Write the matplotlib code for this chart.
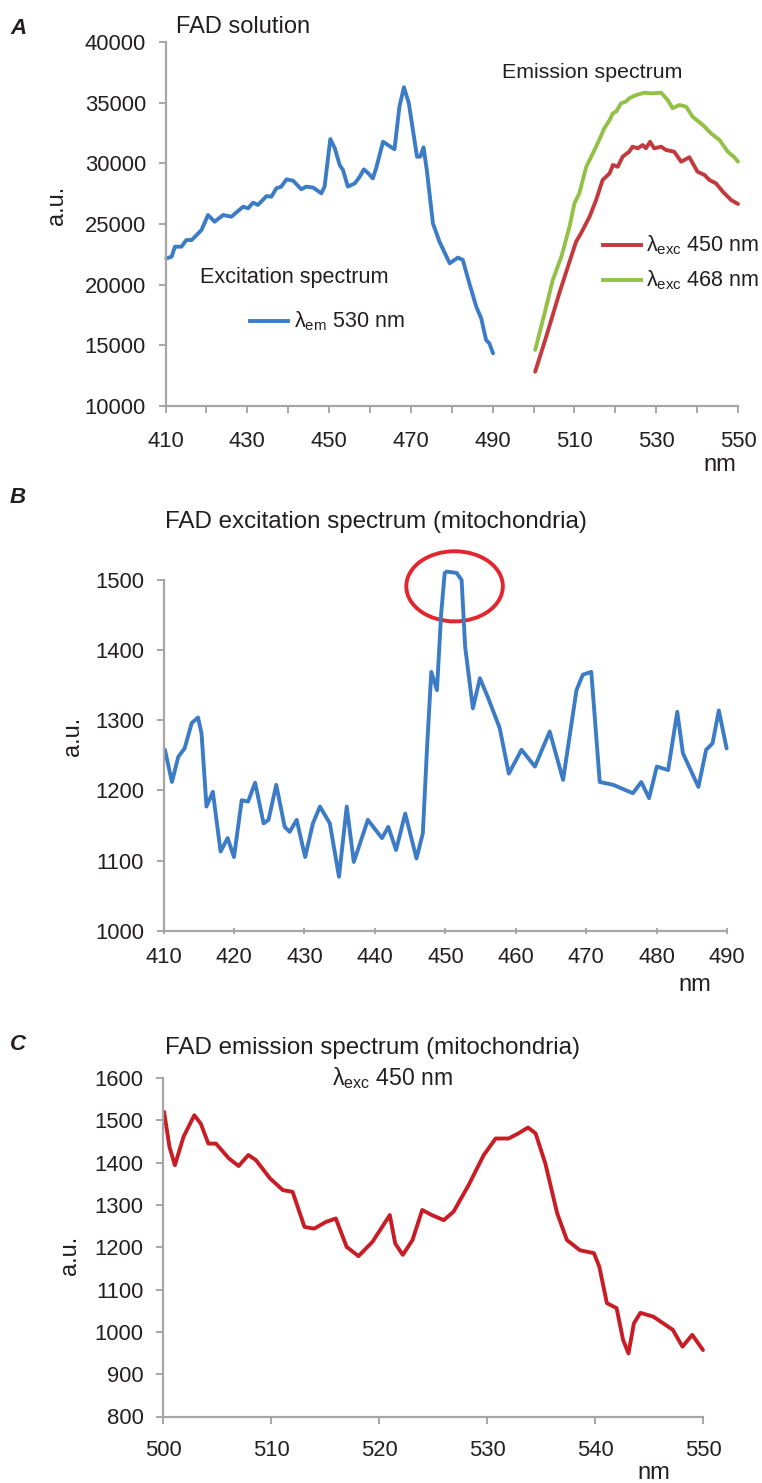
import matplotlib
matplotlib.use('Agg')
import matplotlib.pyplot as plt
from matplotlib.patches import Ellipse

plt.rcParams['font.family'] = ['Liberation Sans', 'DejaVu Sans']
plt.rcParams['mathtext.fontset'] = 'custom'
plt.rcParams['mathtext.rm'] = 'Liberation Sans'
plt.rcParams['mathtext.it'] = 'Liberation Sans:italic'

# panel A: FAD solution
exc_nm = [410.2, 411.5, 412.3, 413.9, 415.1, 416.4, 418.8, 420.4, 422.0, 424.1,
          426.1, 429.0, 430.2, 431.4, 432.6, 434.7, 435.9, 437.1, 438.3, 439.6,
          441.2, 443.2, 444.4, 446.1, 448.1, 448.9, 450.3, 451.4, 452.6, 453.4,
          454.6, 456.3, 457.5, 458.5, 459.5, 460.7, 461.5, 463.2, 464.4, 466.0,
          467.2, 468.3, 469.5, 470.5, 471.5, 472.3, 473.1, 473.9, 475.4, 477.0,
          479.5, 481.5, 482.7, 484.3, 486.0, 487.2, 488.4, 489.2, 490.1]
exc_val = [22170, 22300, 23130, 23130, 23680, 23680, 24500, 25740, 25190, 25740,
           25600, 26430, 26290, 26760, 26570, 27300, 27250, 27940, 28080, 28680,
           28570, 27860, 28080, 28000, 27530, 28080, 32000, 31240, 29860, 29450,
           28080, 28350, 28900, 29500, 29210, 28760, 29590, 31780, 31510, 31160,
           34670, 36270, 34950, 32750, 30550, 30550, 31320, 29450, 25050, 23540,
           21760, 22230, 22040, 20110, 18180, 17230, 15440, 15160, 14340]

em450_nm = [500.4, 503.1, 506.3, 508.4, 510.4, 511.6, 513.7, 515.3, 516.9, 518.6,
            519.4, 520.6, 521.8, 523.4, 524.2, 525.5, 526.7, 527.5, 528.5, 529.5,
            531.2, 532.4, 534.4, 536.1, 538.1, 540.1, 541.8, 543.0, 544.6, 546.3,
            548.3, 550.0]
em450_val = [12830, 15710, 19290, 21480, 23540, 24230, 25600, 26980, 28630, 29170,
             29860, 29720, 30550, 30960, 31370, 31240, 31510, 31240, 31780, 31240,
             31370, 31100, 30960, 30140, 30500, 29310, 29040, 28630, 28350, 27660,
             26980, 26650]

em468_nm = [500.4, 502.7, 504.7, 506.8, 508.8, 510.0, 511.2, 512.9, 513.7, 515.3,
            517.3, 518.6, 519.4, 520.2, 521.4, 522.6, 523.4, 525.1, 527.1, 529.1,
            531.2, 532.8, 534.0, 535.7, 537.3, 538.9, 541.4, 543.4, 545.5, 547.5,
            549.1, 550.0]
em468_val = [14620, 17640, 20380, 22300, 24780, 26700, 27530, 29720, 30270, 31370,
             32880, 33570, 34120, 34260, 34950, 35090, 35360, 35630, 35820, 35770,
             35820, 35220, 34540, 34810, 34670, 33840, 33160, 32470, 31920, 30960,
             30500, 30140]

# panel B: excitation spectrum, mitochondria
mito_exc_nm = [410.2, 411.2, 412.1, 413.0, 414.0, 414.9, 415.4, 416.1, 417.0, 418.1,
               419.1, 420.0, 421.1, 422.0, 423.0, 424.2, 424.9, 426.0, 427.2, 427.9,
               428.9, 430.1, 431.2, 432.2, 433.6, 434.9, 436.0, 437.0, 439.0, 441.0,
               441.9, 443.0, 444.3, 445.9, 446.8, 447.4, 448.0, 448.8, 449.4, 449.9,
               450.2, 451.6, 452.3, 452.8, 453.9, 454.9, 456.1, 457.7, 459.0, 460.8,
               462.7, 464.8, 466.7, 468.6, 469.5, 470.7, 471.9, 473.8, 476.6, 477.8,
               478.9, 480.0, 481.6, 482.9, 483.7, 485.9, 487.0, 487.9, 488.8, 489.9]
mito_exc_val = [1258, 1212, 1248, 1260, 1296, 1304, 1281, 1177, 1198, 1113,
                1132, 1105, 1186, 1184, 1211, 1153, 1158, 1208, 1148, 1141,
                1158, 1105, 1153, 1177, 1153, 1077, 1177, 1098, 1158, 1132,
                1148, 1115, 1167, 1103, 1139, 1262, 1369, 1343, 1452, 1510,
                1512, 1510, 1500, 1405, 1317, 1360, 1331, 1289, 1224, 1258,
                1234, 1284, 1215, 1343, 1365, 1369, 1212, 1208, 1196, 1212,
                1189, 1234, 1229, 1312, 1253, 1205, 1258, 1267, 1314, 1260]

# panel C: emission spectrum, mitochondria (exc 450 nm)
mito_em_nm = [500.1, 500.6, 501.1, 501.9, 502.9, 503.5, 504.2, 504.9, 506.1, 507.0,
              507.9, 508.6, 509.9, 511.1, 512.0, 513.1, 514.0, 515.1, 516.0, 517.0,
              518.1, 519.4, 521.0, 521.5, 522.2, 523.1, 524.0, 524.9, 526.0, 526.9,
              528.3, 529.7, 530.8, 532.0, 532.9, 533.8, 534.5, 535.4, 536.5, 537.4,
              538.6, 539.9, 540.4, 541.1, 542.0, 542.6, 543.1, 543.6, 544.2, 545.4,
              547.2, 548.1, 549.0, 550.0]
mito_em_val = [1520, 1437, 1394, 1461, 1512, 1492, 1445, 1445, 1410, 1392,
               1418, 1406, 1363, 1335, 1331, 1248, 1244, 1260, 1268, 1201,
               1179, 1213, 1276, 1209, 1182, 1217, 1288, 1276, 1264, 1284,
               1347, 1418, 1457, 1457, 1469, 1483, 1469, 1398, 1280, 1217,
               1193, 1186, 1154, 1068, 1056, 981, 949, 1020, 1045, 1036,
               1005, 965, 993, 957]

W, H = 762, 1483
BLUE = '#3c7bc6'
RED_A = '#c23a3e'
GREEN = '#93c047'
RED_C = '#c81d25'
TXT = '#231f20'
AX = '#a6a6a6'
TICK_FS = 15.8
TXT_FS = 17

fig = plt.figure(figsize=(W / 100, H / 100), dpi=100)


def box(l, t, r, b):
    return [l / W, 1 - b / H, (r - l) / W, (b - t) / H]


def px(x, y):
    return x / W, 1 - y / H


def style(ax, xpad, xdir='out'):
    for s in ['top', 'right']:
        ax.spines[s].set_visible(False)
    for s in ['left', 'bottom']:
        ax.spines[s].set_color(AX)
        ax.spines[s].set_linewidth(1.6)
    ax.tick_params(axis='y', colors=AX, labelcolor=TXT, labelsize=TICK_FS,
                   length=5, width=1.4, pad=9)
    ax.tick_params(axis='x', colors=AX, labelcolor=TXT, labelsize=TICK_FS,
                   length=5, width=1.4, pad=xpad, direction=xdir)


lw = 2.8
kw = dict(lw=lw, solid_joinstyle='round', solid_capstyle='round', clip_on=False)

# ---- A ----
axA = fig.add_axes(box(165.5, 42, 738, 406))
axA.plot(exc_nm, exc_val, color=BLUE, **kw)
axA.plot(em450_nm, em450_val, color=RED_A, **kw)
axA.plot(em468_nm, em468_val, color=GREEN, **kw)
axA.set_xlim(410, 550)
axA.set_ylim(10000, 40000)
axA.set_yticks(range(10000, 40001, 5000))
xt = list(range(410, 551, 10))
axA.set_xticks(xt)
axA.set_xticklabels([str(v) if (v - 410) % 20 == 0 else '' for v in xt])
style(axA, 13)

fig.text(*px(57, 205), 'a.u.', fontsize=TXT_FS, color=TXT, rotation=90,
         ha='center', va='center')
fig.text(*px(10, 28), 'A', fontsize=16, fontweight='bold', fontstyle='italic',
         color=TXT, va='center')
fig.text(*px(176, 27), 'FAD solution', fontsize=17, color=TXT, va='center')
fig.text(*px(502, 73), 'Emission spectrum', fontsize=15.4, color=TXT, va='center')
fig.text(*px(200, 278), 'Excitation spectrum', fontsize=15.6, color=TXT, va='center')

# legend-like keys
legA = fig.add_axes([0, 0, 1, 1], facecolor='none')
legA.set_xlim(0, W)
legA.set_ylim(H, 0)
legA.axis('off')
legA.plot([250, 288], [321, 321], color=BLUE, lw=lw)
legA.text(294, 321, r'λ$_{\mathrm{em}}$ 530 nm', fontsize=15.5, color=TXT, va='center')
legA.plot([603, 641], [245, 245], color=RED_A, lw=lw)
legA.text(646, 245, r'λ$_{\mathrm{exc}}$ 450 nm', fontsize=15.5, color=TXT, va='center')
legA.plot([603, 641], [280, 280], color=GREEN, lw=lw)
legA.text(646, 280, r'λ$_{\mathrm{exc}}$ 468 nm', fontsize=15.5, color=TXT, va='center')
fig.text(*px(703, 465), 'nm', fontsize=TXT_FS, color=TXT, va='center')

# ---- B ----
axB = fig.add_axes(box(163.5, 580, 727.3, 930.7))
axB.plot(mito_exc_nm, mito_exc_val, color=BLUE, **kw)
axB.set_xlim(410, 490)
axB.set_ylim(1000, 1500)
axB.set_xticks(range(410, 491, 10))
axB.set_yticks(range(1000, 1501, 100))
style(axB, 9, xdir='inout')
axB.add_patch(Ellipse((451.3, 1491), 13.7, 100, fill=False, edgecolor='#e3262d',
                      lw=2.8, clip_on=False))

fig.text(*px(73, 736), 'a.u.', fontsize=TXT_FS, color=TXT, rotation=90,
         ha='center', va='center')
fig.text(*px(10, 497), 'B', fontsize=16, fontweight='bold', fontstyle='italic',
         color=TXT, va='center')
fig.text(*px(165, 522), 'FAD excitation spectrum (mitochondria)', fontsize=17.4,
         color=TXT, va='center')
fig.text(*px(678, 985), 'nm', fontsize=TXT_FS, color=TXT, va='center')

# ---- C ----
axC = fig.add_axes(box(163, 1078, 703, 1416.5))
axC.plot(mito_em_nm, mito_em_val, color=RED_C, **kw)
axC.set_xlim(500, 550)
axC.set_ylim(800, 1600)
axC.set_xticks(range(500, 551, 10))
axC.set_yticks(range(800, 1601, 100))
style(axC, 12)

fig.text(*px(70, 1255), 'a.u.', fontsize=TXT_FS, color=TXT, rotation=90,
         ha='center', va='center')
fig.text(*px(10, 1044), 'C', fontsize=16, fontweight='bold', fontstyle='italic',
         color=TXT, va='center')
fig.text(*px(165, 1048), 'FAD emission spectrum (mitochondria)', fontsize=17.4,
         color=TXT, va='center')
fig.text(*px(332, 1078), r'λ$_{\mathrm{exc}}$ 450 nm', fontsize=16.6, color=TXT,
         va='center')
fig.text(*px(637, 1479), 'nm', fontsize=TXT_FS, color=TXT, va='baseline')

fig.savefig('out.png', dpi=100)
